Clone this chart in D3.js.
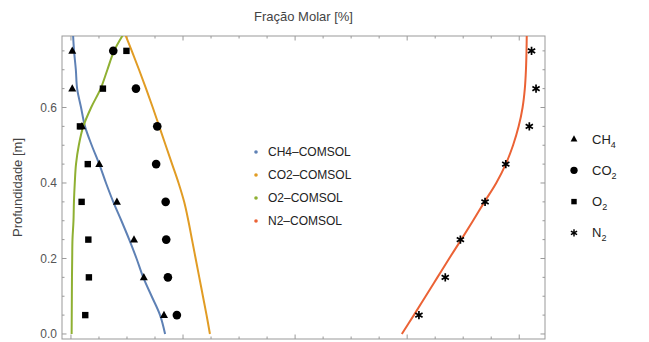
<html>
<script src="https://d3js.org/d3.v7.min.js"></script>
<style>
 body { margin: 0; background: #fff; }
 text { font-family: "Liberation Sans", Arial, sans-serif; }
</style>
<body>
<svg width="649" height="342"></svg>
<script>
// depths (m) for the measured points
var pointDepth = [0.05, 0.15, 0.25, 0.35, 0.45, 0.55, 0.65, 0.75];
var ch4Pts = [16.6, 13.0, 11.25, 8.2, 5.05, 1.96, 0.23, 0.23];
var co2Pts = [18.9, 17.3, 17.0, 16.9, 15.2, 15.4, 11.6, 7.55];
var o2Pts  = [2.55, 3.2, 3.1, 1.9, 3.0, 1.6, 5.7, 9.9];
var n2Pts  = [62.1, 66.8, 69.5, 73.9, 77.6, 81.8, 83.0, 82.2];

// depths (m) for the COMSOL curves
var lineDepth = [0, 0.05, 0.1, 0.15, 0.2, 0.25, 0.3, 0.35, 0.4, 0.45, 0.5, 0.55, 0.6, 0.65, 0.7, 0.75, 0.8];
var ch4Line = [16.8, 15.9, 14.4, 12.9, 11.7, 10.4, 9.0, 7.55, 6.25, 5.05, 3.7, 2.5, 1.8, 1.1, 0.87, 0.55, 0.35];
var co2Line = [24.8, 24.2, 23.55, 22.9, 22.25, 21.6, 20.95, 20.2, 19.2, 18.05, 16.9, 15.75, 14.6, 13.4, 12.15, 10.85, 9.5];
var o2Line  = [0.12, 0.14, 0.16, 0.18, 0.22, 0.27, 0.45, 0.53, 0.68, 0.9, 1.4, 2.2, 3.6, 5.3, 6.5, 7.7, 9.6];
var n2Line  = [59.05, 61.2, 63.3, 65.4, 67.5, 69.65, 71.75, 73.8, 75.9, 77.6, 78.9, 79.9, 80.6, 81.0, 81.2, 81.3, 81.35];

var lineNames = ["CH4\u2013COMSOL", "CO2\u2013COMSOL", "O2\u2013COMSOL", "N2\u2013COMSOL"];
var lineColors = ["#5E81B5", "#E19C24", "#8FB032", "#EB6235"];
var pointNames = [["CH", "4"], ["CO", "2"], ["O", "2"], ["N", "2"]];
var yTickLabels = ["0.0", "0.2", "0.4", "0.6"];

var svg = d3.select("svg");
var pLeft = 62, pRight = 545, pTop = 36, pBottom = 339;

var x = d3.scaleLinear().domain([-1.6, 84.6]).range([pLeft, pRight]);
var y = d3.scaleLinear().domain([-0.0133, 0.7894]).range([pBottom, pTop]);

svg.append("defs").append("clipPath").attr("id", "clip")
  .append("rect").attr("x", pLeft).attr("y", pTop)
  .attr("width", pRight - pLeft).attr("height", pBottom - pTop);

// frame ticks
var frameColor = "#999";
var g = svg.append("g");
var xt = d3.range(0, 85, 5);
xt.forEach(function(v) {
  var len = (v % 20 === 0) ? 4.5 : 2.5;
  g.append("line").attr("x1", x(v)).attr("x2", x(v)).attr("y1", pBottom).attr("y2", pBottom - len).attr("stroke", frameColor);
  g.append("line").attr("x1", x(v)).attr("x2", x(v)).attr("y1", pTop).attr("y2", pTop + len).attr("stroke", frameColor);
});
var yt = d3.range(0, 0.79, 0.05);
yt.forEach(function(v, i) {
  var len = (i % 4 === 0) ? 4.5 : 2.5;
  g.append("line").attr("x1", pLeft).attr("x2", pLeft + len).attr("y1", y(v)).attr("y2", y(v)).attr("stroke", frameColor);
  g.append("line").attr("x1", pRight).attr("x2", pRight - len).attr("y1", y(v)).attr("y2", y(v)).attr("stroke", frameColor);
});
yTickLabels.forEach(function(t) {
  g.append("text").attr("x", pLeft - 5).attr("y", y(+t)).attr("dy", "0.35em")
    .attr("text-anchor", "end").attr("font-size", 12).attr("fill", "#555").text(t);
});
g.append("rect").attr("x", pLeft).attr("y", pTop).attr("width", pRight - pLeft).attr("height", pBottom - pTop)
  .attr("fill", "none").attr("stroke", frameColor);

// curves
var lines = [ch4Line, co2Line, o2Line, n2Line];
var lineGen = d3.line()
  .x(function(d) { return x(d[0]); })
  .y(function(d) { return y(d[1]); })
  .curve(d3.curveCatmullRom);
var plot = svg.append("g").attr("clip-path", "url(#clip)");
lines.forEach(function(vals, i) {
  plot.append("path")
    .datum(vals.map(function(v, j) { return [v, lineDepth[j]]; }))
    .attr("d", lineGen).attr("fill", "none")
    .attr("stroke", lineColors[i]).attr("stroke-width", 2);
});

// markers
function star(s) {
  var p = "";
  [90, 30, 150].forEach(function(a) {
    var r = a * Math.PI / 180, dx = Math.cos(r) * s, dy = Math.sin(r) * s;
    p += "M" + (-dx) + "," + (-dy) + "L" + dx + "," + dy;
  });
  return p;
}
function drawMarker(sel, k) {
  if (k === 0) sel.append("path").attr("d", "M0,-4.3L4,3L-4,3Z").attr("fill", "#000");
  if (k === 1) sel.append("circle").attr("r", 4.3).attr("fill", "#000");
  if (k === 2) sel.append("rect").attr("x", -3.2).attr("y", -3.2).attr("width", 6.4).attr("height", 6.4).attr("fill", "#000");
  if (k === 3) sel.append("path").attr("d", star(4.2)).attr("stroke", "#000").attr("stroke-width", 1.7);
}
var pts = [ch4Pts, co2Pts, o2Pts, n2Pts];
pts.forEach(function(vals, k) {
  vals.forEach(function(v, j) {
    var m = svg.append("g").attr("transform", "translate(" + x(v) + "," + y(pointDepth[j]) + ")");
    drawMarker(m, k);
  });
});

// title and axis label
svg.append("text").attr("x", (pLeft + pRight) / 2).attr("y", 21).attr("text-anchor", "middle")
  .attr("font-size", 13).attr("fill", "#444").text("Fração Molar [%]");
svg.append("text").attr("transform", "translate(22," + ((pTop + pBottom) / 2) + ") rotate(-90)")
  .attr("text-anchor", "middle").attr("font-size", 13).attr("fill", "#444").text("Profundidade [m]");

// middle legend
lineNames.forEach(function(n, i) {
  var ly = 152 + i * 23;
  svg.append("circle").attr("cx", 256).attr("cy", ly).attr("r", 1.8).attr("fill", lineColors[i]);
  svg.append("text").attr("x", 268).attr("y", ly).attr("dy", "0.35em").attr("font-size", 12)
    .attr("fill", "#222").text(n);
});

// right legend
pointNames.forEach(function(n, k) {
  var ly = 139 + k * 31.3;
  var m = svg.append("g").attr("transform", "translate(574," + ly + ") scale(0.85)");
  drawMarker(m, k);
  var t = svg.append("text").attr("x", 592).attr("y", ly).attr("dy", "0.35em").attr("font-size", 13).attr("fill", "#222");
  t.append("tspan").text(n[0]);
  t.append("tspan").attr("font-size", 9).attr("dy", 4).text(n[1]);
});
</script>
</body>
</html>
